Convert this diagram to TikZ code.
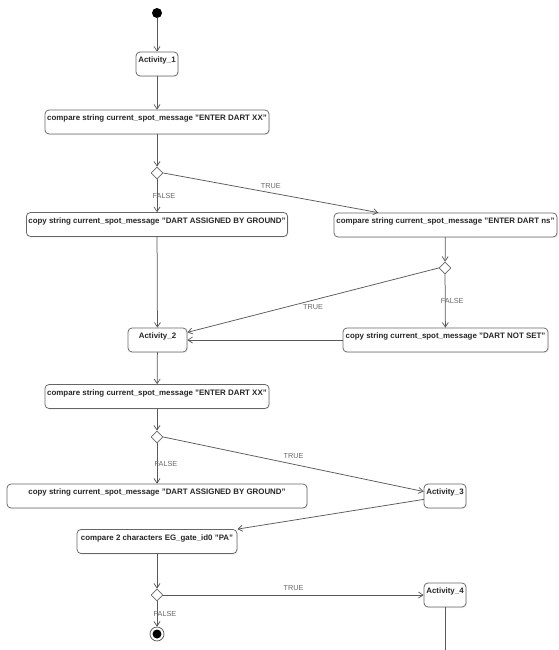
\documentclass[tikz,border=0pt]{standalone}
\usepackage{fontspec}
\setsansfont{Liberation Sans}
\usetikzlibrary{arrows.meta,shapes.geometric,shadows}

\begin{document}
\begin{tikzpicture}[x=1pt,y=-1pt,line cap=round,line join=round,
  flow/.style={draw=black!65,line width=0.75pt,-{Straight Barb[length=4.5pt,width=6pt]}},
  act/.style={draw=black!60,line width=0.75pt,fill=white,rounded corners=4pt,
    font=\sffamily\bfseries\fontsize{7.9}{9}\selectfont,text=black!85,
    inner xsep=2pt,inner ysep=0pt,text height=10.7pt,text depth=13.3pt,
    drop shadow={opacity=0.12,shadow xshift=1pt,shadow yshift=-1.2pt}},
  choice/.style={diamond,draw=black!60,line width=0.75pt,fill=white,
    inner sep=0pt,minimum width=12pt,minimum height=12pt},
  guard/.style={font=\sffamily\fontsize{7.3}{8}\selectfont,text=black!60,inner sep=1pt}]
  \useasboundingbox (0,0) rectangle (558,650);

  \node[circle,fill=black,inner sep=0pt,minimum size=10pt] (start) at (157,13) {};
  \node[act,minimum width=42pt] (act1) at (157,64) {Activity\_1};
  \node[act,minimum width=224pt] (cmp1) at (157,122) {compare string current\_spot\_message "ENTER DART XX"};
  \node[choice] (d1) at (157,173) {};
  \node[act,minimum width=260pt] (copy1) at (157,224.5) {copy string current\_spot\_message "DART ASSIGNED BY GROUND"};
  \node[act,minimum width=223pt] (cmpR) at (445.5,225) {compare string current\_spot\_message "ENTER DART ns"};
  \node[choice] (d2) at (445,268) {};
  \node[act,minimum width=205pt] (copy2) at (445.5,340) {copy string current\_spot\_message "DART NOT SET"};
  \node[act,minimum width=59pt] (act2) at (157.5,340) {Activity\_2};
  \node[act,minimum width=224pt] (cmp2) at (157,396.5) {compare string current\_spot\_message "ENTER DART XX"};
  \node[choice] (d3) at (157,437) {};
  \node[act,minimum width=300pt] (copy3) at (157,496) {copy string current\_spot\_message "DART ASSIGNED BY GROUND"};
  \node[act,minimum width=42pt] (act3) at (445,496) {Activity\_3};
  \node[act,minimum width=160pt] (cmp3) at (157,541.5) {compare 2 characters EG\_gate\_id0 "PA"};
  \node[choice] (d4) at (157,595) {};
  \node[act,minimum width=42pt] (act4) at (445,595) {Activity\_4};
  \node[circle,draw=black!65,line width=0.75pt,fill=white,minimum size=14pt,inner sep=0pt,
    path picture={\fill[black] (path picture bounding box.center) circle (4.5pt);}] (final) at (157,634) {};
  \coordinate (out4) at (445,650);

  \draw[flow] (start) -- (act1);
  \draw[flow] (act1) -- (cmp1);
  \draw[flow] (cmp1) -- (d1);
  \draw[flow] (d1) -- node[guard,xshift=7pt] {FALSE} (copy1);
  \draw[flow] (d1.east) -- node[guard,pos=.5,above=3pt] {TRUE} (cmpR);
  \draw[flow] (cmpR) -- (d2);
  \draw[flow] (d2) -- node[guard,xshift=7pt] {FALSE} (copy2);
  \draw[flow] (d2.west) -- node[guard,pos=.5,below=3pt] {TRUE} (act2);
  \draw[flow] (copy2) -- (act2);
  \draw[flow] (copy1) -- (act2);
  \draw[flow] (act2) -- (cmp2);
  \draw[flow] (cmp2) -- (d3);
  \draw[flow] (d3) -- node[guard,xshift=9pt] {FALSE} (copy3);
  \draw[flow] (d3.east) -- node[guard,pos=.5,above=4pt] {TRUE} (act3);
  \draw[flow] (act3) -- (cmp3.north east);
  \draw[flow] (cmp3) -- (d4);
  \draw[flow] (d4) -- node[guard,xshift=8pt] {FALSE} (final);
  \draw[flow] (d4) -- node[guard,pos=.5,above=3pt] {TRUE} (act4);
  \draw[draw=black!65,line width=0.75pt] (act4) -- (out4);
\end{tikzpicture}
\end{document}
